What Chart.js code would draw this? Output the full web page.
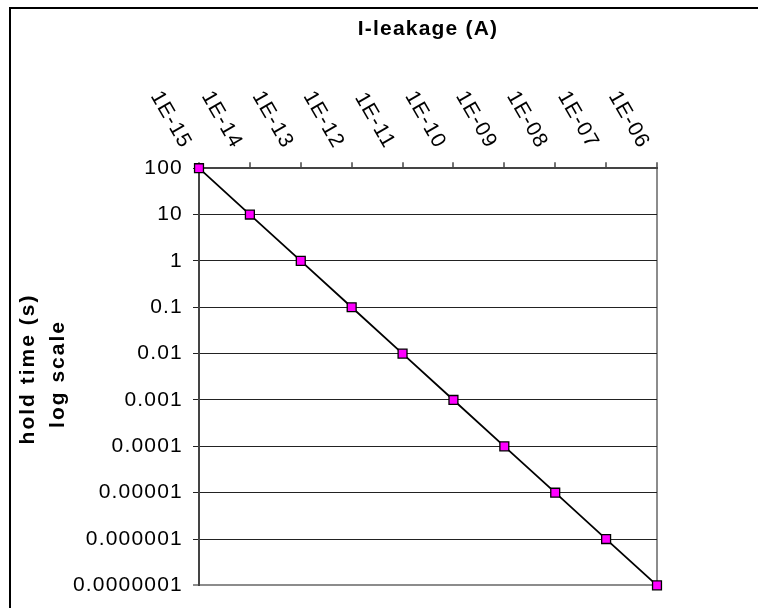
<!DOCTYPE html>
<html>
<head>
<meta charset="utf-8">
<script src="https://cdn.jsdelivr.net/npm/chart.js@4.4.1/dist/chart.umd.min.js"></script>
<style>
  html, body { margin: 0; padding: 0; background: #fff; overflow: hidden; }
  canvas { display: block; }
</style>
</head>
<body>
<canvas id="leakChart" width="758" height="608"></canvas>
<script>
const leakageLabels = ['1E-15', '1E-14', '1E-13', '1E-12', '1E-11', '1E-10', '1E-09', '1E-08', '1E-07', '1E-06'];
const holdTimes = [100, 10, 1, 0.1, 0.01, 0.001, 0.0001, 0.00001, 0.000001, 0.0000001];
const yTickValues = [0.0000001, 0.000001, 0.00001, 0.0001, 0.001, 0.01, 0.1, 1, 10, 100];
const yTickLabels = ['0.0000001', '0.000001', '0.00001', '0.0001', '0.001', '0.01', '0.1', '1', '10', '100'];
const yTitleLines = ['hold time (s)', 'log scale'];

const FONT = "'Liberation Sans', Arial, Helvetica, sans-serif";
const SPACING = '1.2px';

Chart.defaults.font.family = FONT;
Chart.defaults.font.size = 21;
Chart.defaults.color = '#000';

// frame, rotated top labels and the y title
const extras = {
    id: 'extras',
    beforeDraw(chart) {
        chart.ctx.letterSpacing = SPACING;
    },
    afterDraw(chart) {
        const ctx = chart.ctx;
        const xScale = chart.scales.x;

        ctx.save();
        ctx.fillStyle = '#000';
        ctx.font = '21px ' + FONT;
        ctx.letterSpacing = SPACING;
        ctx.textAlign = 'right';
        ctx.textBaseline = 'alphabetic';
        leakageLabels.forEach((lbl, i) => {
            const x = xScale.getPixelForTick(i);
            const y = xScale.bottom;
            ctx.save();
            ctx.translate(x, y);
            ctx.rotate(Math.PI / 3);
            ctx.fillText(lbl, -25, 6);
            ctx.restore();
        });

        ctx.font = 'bold 21px ' + FONT;
        ctx.letterSpacing = '2px';
        ctx.textAlign = 'center';
        ctx.textBaseline = 'middle';
        const titlePos = [[28, 369], [58, 374]];
        yTitleLines.forEach((line, i) => {
            ctx.save();
            ctx.translate(titlePos[i][0], titlePos[i][1]);
            ctx.rotate(-Math.PI / 2);
            ctx.fillText(line, 0, 0);
            ctx.restore();
        });

        ctx.strokeStyle = '#000';
        ctx.lineWidth = 2;
        ctx.beginPath();
        ctx.moveTo(10, 620);
        ctx.lineTo(10, 8);
        ctx.lineTo(770, 8);
        ctx.stroke();
        ctx.restore();
    }
};

const ctx = document.getElementById('leakChart').getContext('2d');
new Chart(ctx, {
    type: 'line',
    data: {
        labels: leakageLabels,
        datasets: [{
            data: holdTimes,
            borderColor: '#000',
            borderWidth: 1.8,
            tension: 0,
            clip: false,
            pointStyle: 'rect',
            pointRadius: 6.3,
            pointHoverRadius: 6.3,
            pointBackgroundColor: '#ff00ff',
            pointBorderColor: '#000',
            pointBorderWidth: 1.3
        }]
    },
    options: {
        responsive: false,
        animation: false,
        devicePixelRatio: 1,
        layout: { padding: { left: 0, top: 0, right: 101, bottom: 5 } },
        plugins: {
            legend: { display: false },
            tooltip: { enabled: false },
            title: {
                display: true,
                text: 'I-leakage (A)',
                fullSize: false,
                color: '#000',
                font: { size: 21, weight: 'bold', lineHeight: 1.2 },
                padding: { top: 17, bottom: 10 }
            }
        },
        scales: {
            x: {
                type: 'category',
                position: 'top',
                offset: false,
                afterFit: (scale) => { scale.height = 116; },
                ticks: { display: false },
                grid: {
                    drawOnChartArea: true,
                    drawTicks: true,
                    tickLength: 6,
                    tickColor: '#444',
                    tickWidth: 1.5,
                    color: (c) => c.index === leakageLabels.length - 1 ? '#8c8c8c' : 'rgba(0,0,0,0)',
                    lineWidth: 2
                },
                border: { display: true, color: '#444', width: 2 }
            },
            y: {
                type: 'logarithmic',
                position: 'left',
                min: 0.0000001,
                max: 100,
                afterFit: (scale) => { scale.width = 199; },
                afterBuildTicks: (scale) => {
                    scale.ticks = yTickValues.map(v => ({ value: v }));
                },
                ticks: {
                    padding: 10,
                    color: '#000',
                    font: { size: 21 },
                    callback: (value, index) => yTickLabels[index]
                },
                grid: {
                    drawTicks: true,
                    tickLength: 6,
                    color: (c) => c.index === 0 ? '#8c8c8c' : '#222',
                    lineWidth: (c) => c.index === 0 ? 2 : 1
                },
                border: { display: true, color: '#444', width: 2 }
            }
        }
    },
    plugins: [extras]
});
</script>
</body>
</html>
